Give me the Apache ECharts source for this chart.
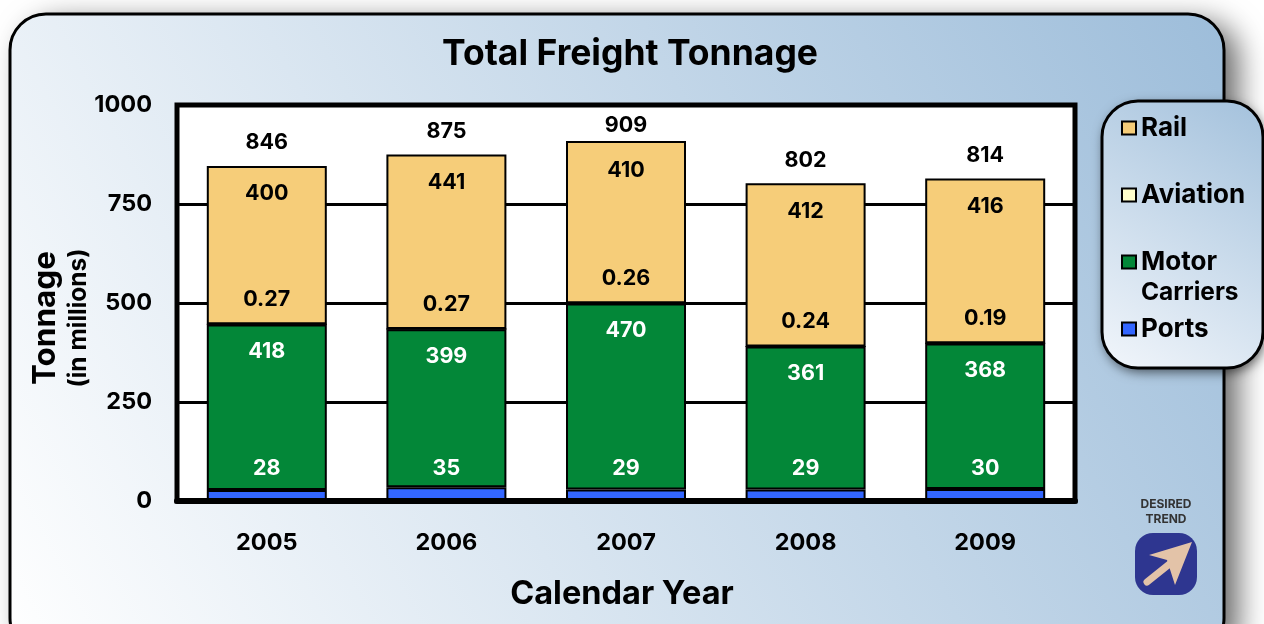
<!DOCTYPE html>
<html><head><meta charset="utf-8">
<style>html,body{margin:0;padding:0;background:#fff;overflow:hidden}#c{width:1264px;height:624px}</style>
<script src="https://cdn.jsdelivr.net/npm/echarts@6/dist/echarts.min.js"></script></head>
<body><div id="c"></div>
<script>
const years = ['2005','2006','2007','2008','2009'];
const ports = [28,35,29,29,30];
const motor = [418,399,470,361,368];
const aviation = [0.27,0.27,0.26,0.24,0.19];
const rail = [400,441,410,412,416];
const totals = [846,875,909,802,814];
const yTicks = [0,250,500,750,1000];
const FONT = 'Inter';
const chart = echarts.init(document.getElementById('c'), null, {renderer:'canvas'});
const grad = new echarts.graphic.LinearGradient(0,1,1,0,[{offset:0,color:'#ffffff'},{offset:1,color:'#9dbdda'}]);
const grad2 = new echarts.graphic.LinearGradient(0,1,1,0,[{offset:0,color:'#f2f6fb'},{offset:1,color:'#a3c1dc'}]);
function bar(name,data,color,label,bw){
  return {name,type:'bar',stack:'t',data,barWidth:120,itemStyle:{color,borderColor:'#000',borderWidth:bw===undefined?2:bw},
    label:Object.assign({show:true,fontFamily:FONT,fontWeight:700,fontSize:21.5},label)};
}
function leg(name,left,top,color,fmt){
  return {data:[{name,icon:'rect',itemStyle:{color,borderColor:'#000',borderWidth:2}}],left,top,orient:'vertical',itemWidth:14,itemHeight:13,itemGap:0,padding:0,selectedMode:false,
    formatter:fmt||'{name}',
    textStyle:{fontFamily:FONT,fontWeight:700,fontSize:26,color:'#000',padding:[0,0,0,0]}};
}
chart.setOption({
  animation:false,
  title:{text:'Total Freight Tonnage',left:625,textAlign:'center',top:31,textStyle:{fontFamily:FONT,fontWeight:700,fontSize:35.5,color:'#000'}},
  grid:{left:177,right:189,top:105,bottom:123,show:true,backgroundColor:'#fff',borderColor:'#000',borderWidth:5},
  legend:[leg('Rail',1121,115,'#f6cd79'),leg('Aviation',1121,182,'#ffffcc'),leg('Motor Carriers',1121,249,'#038738',()=> 'Motor'),leg('Ports',1121,316,'#3366ff')],
  xAxis:{type:'category',data:years,name:'Calendar Year',nameLocation:'middle',nameGap:77,
    nameTextStyle:{fontFamily:FONT,fontWeight:700,fontSize:32.5,color:'#000',padding:[0,8,0,0]},
    axisTick:{show:false},axisLine:{show:true,lineStyle:{color:'#000',width:6}},z:5,
    axisLabel:{fontFamily:FONT,fontWeight:700,fontSize:23.5,color:'#000',margin:30}},
  yAxis:{type:'value',min:yTicks[0],max:yTicks[4],interval:250,z:1,
    name:'{a|Tonnage}\n{b|(in millions)}',nameLocation:'middle',nameRotate:90,nameGap:83,nameMoveOverlap:false,
    nameTextStyle:{padding:[0,30,0,0],rich:{a:{fontFamily:FONT,fontWeight:700,fontSize:31.5,color:'#000',lineHeight:36},b:{fontFamily:FONT,fontWeight:700,fontSize:24.5,color:'#000',lineHeight:30}}},
    axisLine:{show:false},axisTick:{show:false},
    splitLine:{show:true,lineStyle:{color:'#000',width:3}},
    axisLabel:{fontFamily:FONT,fontWeight:700,fontSize:23.5,color:'#000',margin:25,padding:[4,0,0,0],formatter:v=>String(v)}},
  series:[
    bar('Ports',ports.map((v,i)=> i===1?{value:v,label:{distance:8}}:v),'#3366ff',{position:'top',distance:10,color:'#fff'}),
    bar('Motor Carriers',motor,'#038738',{position:'insideTop',distance:16,color:'#fff'}),
    bar('Aviation',aviation,'#ffffcc',{position:'top',distance:13,color:'#000'},1),
    bar('Rail',rail.map((v,i)=> i===2?{value:v,label:{distance:19}}:v),'#f6cd79',{position:'insideTop',distance:17,color:'#000'}),
    {name:'Total',type:'line',data:totals.map((v,i)=> i===2?{value:v,label:{distance:5}}:v),symbol:'circle',symbolSize:0,lineStyle:{opacity:0},z:6,
     label:{show:true,position:'top',distance:12,fontFamily:FONT,fontWeight:700,fontSize:21.5,color:'#000'}}
  ],
  graphic:[
    {type:'rect',z:-6,shape:{x:10,y:14,width:1214,height:640,r:36},
     style:{fill:'#fff',shadowBlur:30,shadowColor:'rgba(0,0,0,0.6)',shadowOffsetX:14,shadowOffsetY:8}},
    {type:'rect',z:-5,shape:{x:10,y:14,width:1214,height:640,r:36},style:{fill:grad,stroke:'#000',lineWidth:3}},
    {type:'rect',z:3,shape:{x:1102,y:101,width:161,height:267,r:36},
     style:{fill:'#fff',shadowBlur:12,shadowColor:'rgba(0,0,0,0.6)',shadowOffsetX:2,shadowOffsetY:4}},
    {type:'rect',z:3,shape:{x:1102,y:101,width:161,height:267,r:36},style:{fill:grad2,stroke:'#000',lineWidth:3}},
    {type:'text',z:5,style:{x:1141,y:293,text:'Carriers',fontFamily:FONT,fontWeight:700,fontSize:24.5,fill:'#000',verticalAlign:'middle'}},
    {type:'text',z:5,style:{x:1166,y:504,text:'DESIRED',align:'center',verticalAlign:'middle',fontFamily:FONT,fontWeight:700,fontSize:12,fill:'#333'}},
    {type:'text',z:5,style:{x:1166,y:519,text:'TREND',align:'center',verticalAlign:'middle',fontFamily:FONT,fontWeight:700,fontSize:12,fill:'#333'}},
    {type:'rect',z:5,shape:{x:1135,y:533,width:62,height:62,r:18},style:{fill:'#2e3690'}},
    {type:'line',z:6,shape:{x1:1147,y1:582,x2:1172,y2:562},style:{stroke:'#e3c3a8',lineWidth:7,lineCap:'round'}},
    {type:'polygon',z:6,shape:{points:[[1192,542],[1149,555],[1167,560],[1175,585]]},style:{fill:'#e3c3a8'}}
  ]
});
</script></body></html>
